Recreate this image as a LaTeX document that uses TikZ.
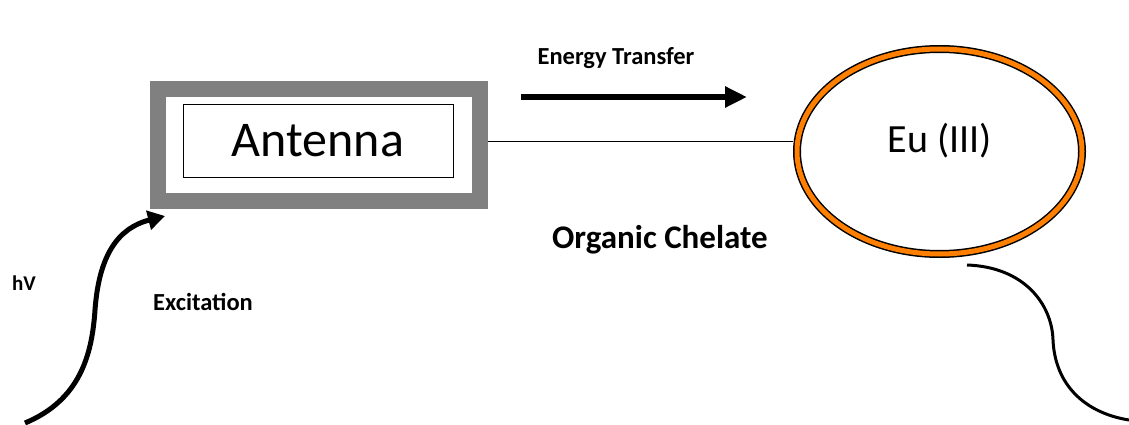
\documentclass[tikz,border=0pt]{standalone}
\usepackage{fontspec}
\setmainfont{Carlito}
\usetikzlibrary{shapes.geometric,arrows.meta}
\definecolor{eorange}{RGB}{255,128,0}
\definecolor{boxgray}{RGB}{128,128,128}
\tikzset{
  lbl/.style={font=\fontsize{24.5}{28}\selectfont\bfseries, inner sep=0pt},
}
\begin{document}
\begin{tikzpicture}[x=1pt,y=-1pt]
\useasboundingbox (0,0) rectangle (1129,425);
% antenna boxes
\node[draw=boxgray, line width=16pt, minimum width=322pt, minimum height=112pt,
      inner sep=0pt, outer sep=8pt] (outer) at (319,145) {};
\node[draw=black, line width=1pt, minimum width=270pt, minimum height=73pt,
      inner sep=0pt, font=\fontsize{50}{56}\selectfont] (ant) at (318,141) {Antenna};
% Eu ellipse
\node[ellipse, draw=black, line width=1.5pt, double=eorange, double distance=5pt,
      minimum width=285pt, minimum height=205pt, inner sep=0pt, outer sep=4pt] (eu) at (939.5,151.5) {};
\node[inner sep=0pt, font=\fontsize{40}{46}\selectfont] (eutxt) at (940,141) {Eu (III)};
% connector
\draw[line width=1pt] (outer.east |- ant.center) -- (eu.west |- ant.center);
% energy transfer
\coordinate (et1) at (521,97);
\coordinate (et2) at (747,97);
\draw[line width=6pt, -{Triangle[length=22pt,width=20pt]}] (et1) -- (et2);
\node[lbl] (etl) at (616,58) {Energy Transfer};
\node[inner sep=0pt, font=\fontsize{33}{38}\selectfont\bfseries] (oc) at (660,240) {Organic Chelate};
% excitation
\coordinate (ex1) at (25,423);
\coordinate (ex2) at (165,216);
\draw[line width=5pt, -{Triangle[length=17pt,width=19pt]}]
  (ex1) .. controls (80,400) and (92,355) .. (95,310)
        .. controls (99,255) and (118,228) .. (ex2);
\node[lbl, font=\fontsize{21}{24}\selectfont\bfseries] (hv) at (24,283) {hV};
\node[lbl] (exl) at (203,302) {Excitation};
% emission
\coordinate (em1) at (967,265);
\coordinate (em2) at (1129,420);
\draw[line width=3pt]
  (em1) .. controls (1025,267) and (1052,305) .. (1053,340)
        .. controls (1055,385) and (1085,413) .. (em2);
\end{tikzpicture}
\end{document}
